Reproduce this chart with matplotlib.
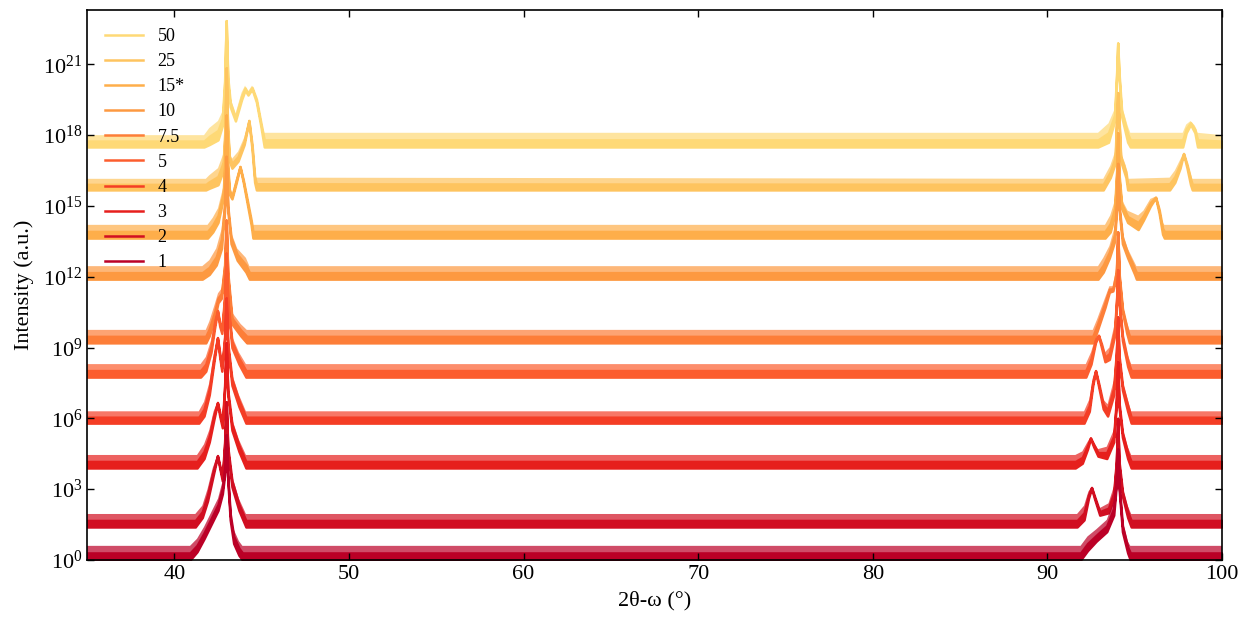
import numpy as np
import matplotlib
matplotlib.use("Agg")
import matplotlib.pyplot as plt
from matplotlib.lines import Line2D
from matplotlib.ticker import FixedLocator, LogFormatterMathtext, NullLocator

plt.rcParams['font.family'] = ['Liberation Serif', 'DejaVu Serif']
plt.rcParams['mathtext.fontset'] = 'stix'

# thickness labels, top trace first (also the drawing order)
labels = ['50', '25', '15*', '10', '7.5', '5', '4', '3', '2', '1']

# each trace: 2theta knots and the lower / upper edge of the noisy band, in decades
x_50 = [35, 41.7, 42.0, 42.5, 42.75, 42.88, 42.97, 43.06, 43.2, 43.5, 43.85, 44.05, 44.22, 44.45, 44.7, 44.95, 45.15,
        92.9, 93.5, 93.85, 93.97, 94.03, 94.1, 94.25, 94.6, 94.75, 97.75, 97.95, 98.2, 98.45, 98.6, 100]
lo_50 = [17.5, 17.5, 17.6, 17.8, 18.4, 20.0, 22.85, 20.2, 19.2, 18.6, 19.5, 19.9, 19.7, 19.95, 19.4, 18.4, 17.5,
         17.5, 17.7, 18.6, 20.5, 21.9, 20.5, 18.8, 17.7, 17.5, 17.5, 18.1, 18.45, 18.1, 17.5, 17.5]
hi_50 = [18.0, 18.0, 18.3, 18.6, 19.0, 20.6, 22.85, 20.7, 19.6, 18.9, 19.8, 20.1, 19.85, 20.1, 19.65, 18.7, 18.1,
         18.1, 18.5, 19.1, 20.9, 21.9, 20.9, 19.3, 18.4, 18.1, 18.1, 18.45, 18.6, 18.4, 18.1, 18.0]

x_25 = [35, 41.8, 42.0, 42.5, 42.8, 42.9, 42.97, 43.05, 43.15, 43.3, 43.65, 44.0, 44.27, 44.45, 44.6, 44.7,
        93.2, 93.6, 93.88, 93.97, 94.03, 94.1, 94.2, 94.5, 94.6, 97.0, 97.3, 97.6, 97.8, 98.0, 98.2, 98.3, 100]
lo_25 = [15.68, 15.68, 15.75, 15.9, 16.5, 18.0, 20.85, 18.2, 16.9, 16.6, 16.9, 17.6, 18.6, 17.4, 16.0, 15.68,
         15.68, 16.2, 16.8, 18.6, 19.8, 18.6, 16.9, 16.2, 15.68, 15.68, 16.0, 16.6, 17.2, 16.6, 15.9, 15.68, 15.68]
hi_25 = [16.15, 16.15, 16.3, 16.6, 17.2, 18.5, 20.85, 18.6, 17.3, 17.0, 17.3, 17.9, 18.65, 17.8, 16.5, 16.2,
         16.15, 16.7, 17.3, 19.0, 19.8, 19.0, 17.3, 16.7, 16.15, 16.2, 16.5, 16.95, 17.25, 16.9, 16.4, 16.15, 16.15]

x_15 = [35, 41.9, 42.2, 42.5, 42.8, 42.9, 42.97, 43.05, 43.15, 43.3, 43.55, 43.76, 43.95, 44.15, 44.4, 44.5,
        93.3, 93.6, 93.85, 93.97, 94.03, 94.1, 94.25, 94.6, 95.2, 95.5, 95.9, 96.2, 96.4, 96.6, 96.7, 100]
lo_15 = [13.64, 13.64, 13.9, 14.3, 15.3, 16.8, 18.85, 16.6, 15.5, 15.3, 16.0, 16.65, 16.0, 15.2, 14.2, 13.64,
         13.64, 13.9, 14.6, 16.3, 18.1, 16.2, 14.9, 14.3, 14.0, 14.4, 15.0, 15.35, 14.7, 13.8, 13.64, 13.64]
hi_15 = [14.2, 14.2, 14.5, 14.9, 15.8, 17.2, 18.85, 17.0, 15.9, 15.5, 16.2, 16.7, 16.2, 15.5, 14.6, 14.2,
         14.2, 14.6, 15.2, 16.7, 18.1, 16.6, 15.3, 14.8, 14.6, 14.8, 15.3, 15.4, 15.0, 14.3, 14.2, 14.2]

x_10 = [35, 41.6, 42.0, 42.4, 42.7, 42.88, 42.97, 43.06, 43.25, 43.6, 44.1, 44.3,
        92.9, 93.2, 93.55, 93.85, 93.97, 94.03, 94.1, 94.3, 94.6, 95.0, 95.1, 100]
lo_10 = [11.9, 11.9, 12.1, 12.5, 13.2, 14.8, 17.1, 14.8, 13.4, 12.7, 12.2, 11.9,
         11.9, 12.2, 12.8, 13.5, 15.0, 16.8, 14.9, 13.4, 12.8, 12.1, 11.9, 11.9]
hi_10 = [12.45, 12.45, 12.7, 13.2, 14.0, 15.3, 17.1, 15.2, 13.9, 13.2, 12.8, 12.45,
         12.45, 12.8, 13.3, 14.1, 15.4, 16.8, 15.3, 13.9, 13.2, 12.6, 12.45, 12.45]

x_75 = [35, 41.8, 42.0, 42.3, 42.5, 42.7, 42.88, 42.97, 43.06, 43.3, 43.8, 44.15,
        92.6, 92.85, 93.3, 93.55, 93.75, 93.95, 94.03, 94.12, 94.3, 94.55, 94.7, 100]
lo_75 = [9.2, 9.2, 9.5, 10.2, 10.9, 11.1, 12.3, 14.4, 12.0, 10.0, 9.5, 9.2,
         9.2, 9.7, 10.7, 11.35, 11.4, 12.0, 13.9, 11.9, 10.5, 9.6, 9.2, 9.2]
hi_75 = [9.75, 9.75, 10.1, 10.8, 11.3, 11.5, 12.7, 14.4, 12.4, 10.5, 10.0, 9.75,
         9.75, 10.2, 11.1, 11.6, 11.6, 12.4, 13.9, 12.2, 10.8, 10.1, 9.75, 9.75]

x_5 = [35, 41.5, 41.8, 42.1, 42.3, 42.47, 42.6, 42.72, 42.88, 42.97, 43.06, 43.3, 43.7, 44.1,
       92.2, 92.5, 92.75, 92.93, 93.1, 93.3, 93.55, 93.85, 93.97, 94.03, 94.1, 94.3, 94.6, 94.8, 100]
lo_5 = [7.75, 7.75, 8.0, 8.8, 9.8, 10.55, 9.9, 9.6, 11.0, 13.0, 10.8, 9.0, 8.3, 7.75,
        7.75, 8.3, 9.2, 9.5, 9.0, 8.4, 8.5, 9.5, 11.0, 12.3, 10.9, 9.3, 8.2, 7.75, 7.75]
hi_5 = [8.3, 8.3, 8.6, 9.3, 10.2, 10.6, 10.2, 9.9, 11.4, 13.0, 11.2, 9.5, 8.8, 8.3,
        8.3, 8.8, 9.4, 9.55, 9.3, 8.8, 9.0, 10.0, 11.3, 12.3, 11.2, 9.7, 8.7, 8.3, 8.3]

x_4 = [35, 41.4, 41.7, 42.0, 42.25, 42.47, 42.6, 42.72, 42.88, 42.97, 43.06, 43.3, 43.7, 44.1,
       92.1, 92.4, 92.6, 92.76, 92.95, 93.2, 93.45, 93.8, 93.95, 94.03, 94.1, 94.3, 94.6, 94.8, 100]
lo_4 = [5.8, 5.8, 6.1, 7.0, 8.3, 9.4, 8.6, 8.0, 9.3, 11.1, 9.0, 7.4, 6.5, 5.8,
        5.8, 6.3, 7.4, 8.0, 7.3, 6.4, 6.1, 7.0, 8.6, 10.3, 8.5, 7.2, 6.3, 5.8, 5.8]
hi_4 = [6.3, 6.3, 6.7, 7.5, 8.7, 9.45, 8.9, 8.3, 9.6, 11.1, 9.4, 7.9, 7.0, 6.3,
        6.3, 6.8, 7.7, 8.05, 7.6, 6.8, 6.6, 7.6, 9.0, 10.3, 8.9, 7.6, 6.8, 6.3, 6.3]

x_3 = [35, 41.3, 41.7, 42.0, 42.25, 42.47, 42.6, 42.75, 42.88, 42.97, 43.06, 43.3, 43.7, 44.1,
       91.6, 92.0, 92.3, 92.47, 92.65, 92.9, 93.4, 93.8, 93.95, 94.03, 94.1, 94.3, 94.6, 94.8, 100]
lo_3 = [3.9, 3.9, 4.3, 5.0, 5.9, 6.65, 6.1, 5.6, 7.2, 9.2, 7.0, 5.5, 4.6, 3.9,
        3.9, 4.1, 4.7, 5.15, 4.8, 4.4, 4.3, 5.0, 6.6, 8.4, 6.5, 5.2, 4.3, 3.9, 3.9]
hi_3 = [4.45, 4.45, 4.9, 5.5, 6.3, 6.7, 6.4, 5.9, 7.6, 9.2, 7.4, 6.0, 5.1, 4.45,
        4.45, 4.6, 5.0, 5.2, 5.0, 4.7, 4.8, 5.5, 7.0, 8.4, 6.9, 5.6, 4.8, 4.45, 4.45]

x_2 = [35, 41.2, 41.6, 41.9, 42.2, 42.47, 42.6, 42.75, 42.88, 42.97, 43.06, 43.3, 43.7, 44.1,
       91.7, 92.1, 92.35, 92.53, 92.7, 93.0, 93.5, 93.8, 93.95, 94.03, 94.1, 94.3, 94.6, 94.8, 100]
lo_2 = [1.4, 1.4, 1.8, 2.5, 3.5, 4.4, 3.9, 3.35, 4.8, 6.7, 4.6, 3.1, 2.1, 1.4,
        1.4, 1.7, 2.6, 3.05, 2.6, 1.9, 2.0, 2.6, 4.0, 6.0, 4.0, 2.7, 1.8, 1.4, 1.4]
hi_2 = [1.95, 1.95, 2.3, 3.0, 3.9, 4.45, 4.1, 3.6, 5.2, 6.7, 5.0, 3.6, 2.6, 1.95,
        1.95, 2.3, 2.9, 3.1, 2.8, 2.2, 2.4, 3.1, 4.4, 6.0, 4.4, 3.1, 2.3, 1.95, 1.95]

x_1 = [35, 40.9, 41.3, 41.7, 42.1, 42.5, 42.75, 42.88, 42.97, 43.06, 43.2, 43.4, 43.7, 43.9,
       91.9, 92.3, 92.8, 93.4, 93.8, 93.95, 94.03, 94.1, 94.3, 94.6, 94.75, 100]
lo_1 = [0.0, 0.0, 0.35, 0.9, 1.5, 2.1, 2.8, 3.6, 5.3, 3.4, 1.7, 0.7, 0.2, 0.0,
        0.0, 0.4, 0.8, 1.2, 1.9, 3.2, 4.7, 3.1, 1.2, 0.3, 0.0, 0.0]
hi_1 = [0.6, 0.6, 0.9, 1.4, 2.0, 2.6, 3.3, 4.0, 5.3, 3.8, 2.2, 1.3, 0.8, 0.6,
        0.6, 1.0, 1.3, 1.7, 2.5, 3.6, 4.7, 3.5, 1.7, 0.8, 0.6, 0.6]

traces = [(x_50, lo_50, hi_50), (x_25, lo_25, hi_25), (x_15, lo_15, hi_15), (x_10, lo_10, hi_10),
          (x_75, lo_75, hi_75), (x_5, lo_5, hi_5), (x_4, lo_4, hi_4), (x_3, lo_3, hi_3),
          (x_2, lo_2, hi_2), (x_1, lo_1, hi_1)]


def main():
    colors = plt.cm.YlOrRd(np.linspace(0.25, 0.875, len(labels)))

    fig = plt.figure(figsize=(12.45, 6.19), dpi=100)
    ax = fig.add_axes([0.0699, 0.0953, 0.9116, 0.8885])

    handles = []
    for (x, lo, hi), c, lab in zip(traces, colors, labels):
        lo = np.array(lo)
        hi = np.array(hi)
        mid = (lo + hi) / 2
        # dense lower part of the noise band
        ax.fill_between(x, 10.0 ** lo, 10.0 ** mid, facecolor=c, edgecolor=c, linewidth=1.8)
        # sparse spikes on top of it
        ax.fill_between(x, 10.0 ** mid, 10.0 ** hi, facecolor=c, edgecolor='none', alpha=0.7)
        handles.append(Line2D([], [], color=c, lw=1.8, label=lab))

    ax.set_yscale('log')
    ax.set_xlim(35, 100)
    ax.set_ylim(1, 2e23)

    ax.yaxis.set_major_locator(FixedLocator(10.0 ** np.arange(0, 24, 3)))
    ax.yaxis.set_major_formatter(LogFormatterMathtext())
    ax.yaxis.set_minor_locator(NullLocator())
    ax.set_xticks(np.arange(40, 101, 10))
    ax.tick_params(which='both', direction='in', top=True, right=True,
                   length=5, width=1.0, labelsize=16)
    for s in ax.spines.values():
        s.set_linewidth(1.2)

    ax.set_xlabel('2θ-ω (°)', fontsize=16, labelpad=5)
    ax.set_ylabel('Intensity (a.u.)', fontsize=16, labelpad=6)

    ax.legend(handles=handles, loc='upper left', frameon=False, fontsize=13,
              handlelength=2.1, labelspacing=0.45, borderaxespad=0.6)

    fig.savefig('out.png', dpi=100)


if __name__ == "__main__":
    main()
